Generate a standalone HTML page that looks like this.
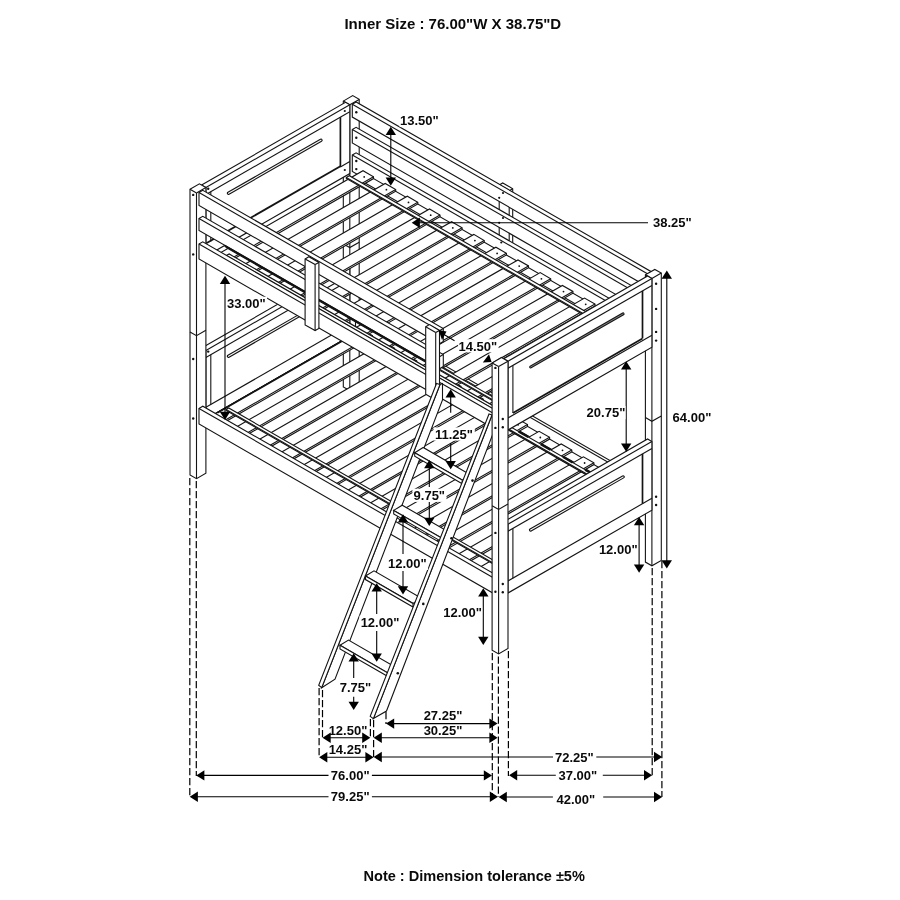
<!DOCTYPE html>
<html><head><meta charset="utf-8"><title>Bunk bed dimensions</title>
<style>
html,body{margin:0;padding:0;background:#fff;}
body{width:900px;height:900px;overflow:hidden;font-family:"Liberation Sans",sans-serif;}
svg{display:block;}
svg text{font-family:"Liberation Sans",sans-serif;font-weight:bold;fill:#0a0a0a;}
svg{filter:grayscale(1);}
</style></head><body>
<svg width="900" height="900" viewBox="0 0 900 900" stroke-linejoin="miter">
<rect width="900" height="900" fill="#fff"/>
<g id="titles"><text x="344.4" y="29.4" font-size="15">Inner Size : 76.00&quot;W X 38.75&quot;D</text>
<text x="363.5" y="880.9" font-size="14.55">Note : Dimension tolerance &#177;5%</text></g>
<g id="bed">
<!-- B post -->
<polygon points="343.3,101.1 352.7,95.6 359.2,99.4 359.2,385.2 349.8,390.6 343.3,386.9" fill="#fff" stroke="#141414" stroke-width="1.1"/>
<line x1="349.8" y1="104.8" x2="343.3" y2="101.1" stroke="#141414" stroke-width="1.1"/>
<line x1="349.8" y1="104.8" x2="359.2" y2="99.4" stroke="#141414" stroke-width="1.1"/>
<line x1="349.8" y1="104.8" x2="349.8" y2="390.6" stroke="#141414" stroke-width="1.1"/>
<polyline points="343.3,243.9 349.8,247.6 359.2,242.2" fill="none" stroke="#141414" stroke-width="1.1"/>
<!-- back guard post -->
<polygon points="499.2,184.9 502.7,182.9 512.7,188.7 512.7,255.2 509.2,257.2 499.2,251.4" fill="#fff" stroke="#141414" stroke-width="1.1"/>
<line x1="509.2" y1="190.7" x2="499.2" y2="184.9" stroke="#141414" stroke-width="1.1"/>
<line x1="509.2" y1="190.7" x2="512.7" y2="188.7" stroke="#141414" stroke-width="1.1"/>
<line x1="509.2" y1="190.7" x2="509.2" y2="257.2" stroke="#141414" stroke-width="1.1"/>
<!-- back rails -->
<polygon points="352.3,104.2 356.1,102 651.7,271.9 651.7,284.8 647.9,287 352.3,117.1" fill="#fff" stroke="#141414" stroke-width="1.1"/>
<line x1="647.9" y1="274.1" x2="352.3" y2="104.2" stroke="#141414" stroke-width="1.1"/>
<line x1="647.9" y1="274.1" x2="651.7" y2="271.9" stroke="#141414" stroke-width="1.1"/>
<line x1="647.9" y1="274.1" x2="647.9" y2="287" stroke="#141414" stroke-width="1.1"/>
<polygon points="352.3,129.5 356.1,127.3 651.7,297.2 651.7,310.7 647.9,312.9 352.3,143" fill="#fff" stroke="#141414" stroke-width="1.1"/>
<line x1="647.9" y1="299.4" x2="352.3" y2="129.5" stroke="#141414" stroke-width="1.1"/>
<line x1="647.9" y1="299.4" x2="651.7" y2="297.2" stroke="#141414" stroke-width="1.1"/>
<line x1="647.9" y1="299.4" x2="647.9" y2="312.9" stroke="#141414" stroke-width="1.1"/>
<polygon points="352.3,155 356.1,152.8 651.7,322.7 651.7,339.1 647.9,341.3 352.3,171.4" fill="#fff" stroke="#141414" stroke-width="1.1"/>
<line x1="647.9" y1="324.9" x2="352.3" y2="155" stroke="#141414" stroke-width="1.1"/>
<line x1="647.9" y1="324.9" x2="651.7" y2="322.7" stroke="#141414" stroke-width="1.1"/>
<line x1="647.9" y1="324.9" x2="647.9" y2="341.3" stroke="#141414" stroke-width="1.1"/>
<polygon points="355.5,317 357.9,315.6 653.5,485.6 653.5,501.1 651.1,502.5 355.5,332.5" fill="#fff" stroke="#141414" stroke-width="1.1"/>
<line x1="651.1" y1="487" x2="355.5" y2="317" stroke="#141414" stroke-width="1.1"/>
<line x1="651.1" y1="487" x2="653.5" y2="485.6" stroke="#141414" stroke-width="1.1"/>
<line x1="651.1" y1="487" x2="651.1" y2="502.5" stroke="#141414" stroke-width="1.1"/>
<circle cx="356.3" cy="112.2" r="1.2" fill="#111"/>
<circle cx="356.3" cy="137.7" r="1.2" fill="#111"/>
<circle cx="356.3" cy="161" r="1.2" fill="#111"/>
<circle cx="356.3" cy="169.1" r="1.2" fill="#111"/>
<circle cx="503" cy="193" r="1.1" fill="#111"/>
<circle cx="499.2" cy="197.8" r="1.1" fill="#111"/>
<circle cx="503" cy="218" r="1.1" fill="#111"/>
<circle cx="499.2" cy="222.8" r="1.1" fill="#111"/>
<circle cx="501.3" cy="242.5" r="1.1" fill="#111"/>
<!-- headboards -->
<polygon points="201.6,185.1 345.5,102.3 349.8,104.8 349.8,173.6 205.9,256.3 201.6,253.9" fill="#fff" stroke="#141414" stroke-width="1.1"/>
<line x1="205.9" y1="187.5" x2="201.6" y2="185.1" stroke="#141414" stroke-width="1.1"/>
<line x1="205.9" y1="187.5" x2="349.8" y2="104.8" stroke="#141414" stroke-width="1.1"/>
<line x1="205.9" y1="187.5" x2="205.9" y2="256.3" stroke="#141414" stroke-width="1.1"/>
<line x1="205.9" y1="194.5" x2="349.8" y2="111.8" stroke="#141414" stroke-width="1.1"/>
<line x1="205.9" y1="243.5" x2="340.4" y2="166.2" stroke="#141414" stroke-width="1.8"/>
<line x1="340.4" y1="167" x2="349.8" y2="161.6" stroke="#141414" stroke-width="1.1"/>
<line x1="210.8" y1="191.7" x2="210.8" y2="241.5" stroke="#141414" stroke-width="1.1"/>
<line x1="340.4" y1="117.2" x2="340.4" y2="167" stroke="#141414" stroke-width="1.7"/>
<line x1="228.5" y1="193.3" x2="321" y2="140.2" stroke="#151515" stroke-width="3.3" stroke-linecap="round"/>
<line x1="228.5" y1="193.3" x2="321" y2="140.2" stroke="#f8f8f8" stroke-width="1.1" stroke-linecap="round"/>
<polygon points="201.6,348.1 345.5,265.3 349.8,267.8 349.8,336.6 205.9,419.3 201.6,416.9" fill="#fff" stroke="#141414" stroke-width="1.1"/>
<line x1="205.9" y1="350.5" x2="201.6" y2="348.1" stroke="#141414" stroke-width="1.1"/>
<line x1="205.9" y1="350.5" x2="349.8" y2="267.8" stroke="#141414" stroke-width="1.1"/>
<line x1="205.9" y1="350.5" x2="205.9" y2="419.3" stroke="#141414" stroke-width="1.1"/>
<line x1="205.9" y1="419.3" x2="349.8" y2="336.6" stroke="#141414" stroke-width="1.7"/>
<line x1="205.9" y1="357.5" x2="349.8" y2="274.8" stroke="#141414" stroke-width="1.1"/>
<line x1="205.9" y1="407.3" x2="349.8" y2="324.6" stroke="#141414" stroke-width="1.1"/>
<line x1="210.8" y1="354.7" x2="210.8" y2="404.5" stroke="#141414" stroke-width="1.1"/>
<line x1="340.4" y1="280.2" x2="340.4" y2="330" stroke="#141414" stroke-width="1.7"/>
<line x1="228.5" y1="356.3" x2="321" y2="303.1" stroke="#151515" stroke-width="3.3" stroke-linecap="round"/>
<line x1="228.5" y1="356.3" x2="321" y2="303.1" stroke="#f8f8f8" stroke-width="1.1" stroke-linecap="round"/>
<circle cx="208.2" cy="188.8" r="1.2" fill="#111"/>
<circle cx="208.2" cy="351.6" r="1.2" fill="#111"/>
<circle cx="344.8" cy="111" r="1.1" fill="#111"/>
<circle cx="344.8" cy="170" r="1.1" fill="#111"/>
<!-- R post -->
<polygon points="645.4,274.8 654.8,269.4 661.3,273.1 661.3,560.4 651.9,565.8 645.4,562.1" fill="#fff" stroke="#141414" stroke-width="1.1"/>
<line x1="651.9" y1="278.5" x2="645.4" y2="274.8" stroke="#141414" stroke-width="1.1"/>
<line x1="651.9" y1="278.5" x2="661.3" y2="273.1" stroke="#141414" stroke-width="1.1"/>
<line x1="651.9" y1="278.5" x2="651.9" y2="565.8" stroke="#141414" stroke-width="1.1"/>
<polyline points="645.4,417.6 651.9,421.3 661.3,415.9" fill="none" stroke="#141414" stroke-width="1.1"/>
<circle cx="656.1" cy="283.7" r="1.2" fill="#111"/>
<circle cx="656.1" cy="308.9" r="1.2" fill="#111"/>
<circle cx="656.1" cy="331.9" r="1.2" fill="#111"/>
<circle cx="656.1" cy="340.6" r="1.2" fill="#111"/>
<circle cx="656.1" cy="496.7" r="1.2" fill="#111"/>
<circle cx="656.1" cy="505" r="1.2" fill="#111"/>
<!-- lower deck -->
<polygon points="352.7,335.1 360.7,330.5 651.1,497.5 651.1,502.5 643.1,507.1 352.7,340.1" fill="#fff" stroke="#141414" stroke-width="1.1"/>
<line x1="643.1" y1="502.1" x2="352.7" y2="335.1" stroke="#141414" stroke-width="1.1"/>
<line x1="643.1" y1="502.1" x2="651.1" y2="497.5" stroke="#141414" stroke-width="1.1"/>
<line x1="643.1" y1="502.1" x2="643.1" y2="507.1" stroke="#141414" stroke-width="1.1"/>
<polygon points="208,418.3 214.2,414.7 504.6,581.7 504.6,586.7 498.4,590.3 208,423.3" fill="#fff" stroke="#141414" stroke-width="1.1"/>
<line x1="498.4" y1="585.3" x2="208" y2="418.3" stroke="#141414" stroke-width="1.1"/>
<line x1="498.4" y1="585.3" x2="504.6" y2="581.7" stroke="#141414" stroke-width="1.1"/>
<line x1="498.4" y1="585.3" x2="498.4" y2="590.3" stroke="#141414" stroke-width="1.1"/>
<polygon points="210.1,416.7 361.9,329.4 372.4,335.5 372.4,337.3 220.6,424.5 210.1,418.5" fill="#fff" stroke="#141414" stroke-width="1.1"/>
<line x1="220.6" y1="422.7" x2="210.1" y2="416.7" stroke="#141414" stroke-width="1.1"/>
<line x1="220.6" y1="422.7" x2="372.4" y2="335.5" stroke="#141414" stroke-width="1.1"/>
<line x1="220.6" y1="422.7" x2="220.6" y2="424.5" stroke="#141414" stroke-width="1.1"/>
<polygon points="232.2,429.4 384.1,342.2 394.6,348.2 394.6,350 242.8,437.3 232.2,431.2" fill="#fff" stroke="#141414" stroke-width="1.1"/>
<line x1="242.8" y1="435.5" x2="232.2" y2="429.4" stroke="#141414" stroke-width="1.1"/>
<line x1="242.8" y1="435.5" x2="394.6" y2="348.2" stroke="#141414" stroke-width="1.1"/>
<line x1="242.8" y1="435.5" x2="242.8" y2="437.3" stroke="#141414" stroke-width="1.1"/>
<polygon points="254.4,442.2 406.2,354.9 416.7,360.9 416.7,362.7 264.9,450 254.4,444" fill="#fff" stroke="#141414" stroke-width="1.1"/>
<line x1="264.9" y1="448.2" x2="254.4" y2="442.2" stroke="#141414" stroke-width="1.1"/>
<line x1="264.9" y1="448.2" x2="416.7" y2="360.9" stroke="#141414" stroke-width="1.1"/>
<line x1="264.9" y1="448.2" x2="264.9" y2="450" stroke="#141414" stroke-width="1.1"/>
<polygon points="276.5,454.9 428.3,367.6 438.8,373.7 438.8,375.5 287,462.8 276.5,456.7" fill="#fff" stroke="#141414" stroke-width="1.1"/>
<line x1="287" y1="461" x2="276.5" y2="454.9" stroke="#141414" stroke-width="1.1"/>
<line x1="287" y1="461" x2="438.8" y2="373.7" stroke="#141414" stroke-width="1.1"/>
<line x1="287" y1="461" x2="287" y2="462.8" stroke="#141414" stroke-width="1.1"/>
<polygon points="298.7,467.7 450.5,380.4 461,386.4 461,388.2 309.2,475.5 298.7,469.5" fill="#fff" stroke="#141414" stroke-width="1.1"/>
<line x1="309.2" y1="473.7" x2="298.7" y2="467.7" stroke="#141414" stroke-width="1.1"/>
<line x1="309.2" y1="473.7" x2="461" y2="386.4" stroke="#141414" stroke-width="1.1"/>
<line x1="309.2" y1="473.7" x2="309.2" y2="475.5" stroke="#141414" stroke-width="1.1"/>
<polygon points="320.9,480.4 472.7,393.1 483.2,399.1 483.2,400.9 331.4,488.2 320.9,482.2" fill="#fff" stroke="#141414" stroke-width="1.1"/>
<line x1="331.4" y1="486.4" x2="320.9" y2="480.4" stroke="#141414" stroke-width="1.1"/>
<line x1="331.4" y1="486.4" x2="483.2" y2="399.1" stroke="#141414" stroke-width="1.1"/>
<line x1="331.4" y1="486.4" x2="331.4" y2="488.2" stroke="#141414" stroke-width="1.1"/>
<polygon points="343,493.1 494.8,405.8 505.3,411.9 505.3,413.7 353.5,501 343,494.9" fill="#fff" stroke="#141414" stroke-width="1.1"/>
<line x1="353.5" y1="499.2" x2="343" y2="493.1" stroke="#141414" stroke-width="1.1"/>
<line x1="353.5" y1="499.2" x2="505.3" y2="411.9" stroke="#141414" stroke-width="1.1"/>
<line x1="353.5" y1="499.2" x2="353.5" y2="501" stroke="#141414" stroke-width="1.1"/>
<polygon points="365.1,505.9 517,418.6 527.5,424.6 527.5,426.4 375.6,513.7 365.1,507.7" fill="#fff" stroke="#141414" stroke-width="1.1"/>
<line x1="375.6" y1="511.9" x2="365.1" y2="505.9" stroke="#141414" stroke-width="1.1"/>
<line x1="375.6" y1="511.9" x2="527.5" y2="424.6" stroke="#141414" stroke-width="1.1"/>
<line x1="375.6" y1="511.9" x2="375.6" y2="513.7" stroke="#141414" stroke-width="1.1"/>
<polygon points="387.3,518.6 539.1,431.3 549.6,437.3 549.6,439.1 397.8,526.4 387.3,520.4" fill="#fff" stroke="#141414" stroke-width="1.1"/>
<line x1="397.8" y1="524.6" x2="387.3" y2="518.6" stroke="#141414" stroke-width="1.1"/>
<line x1="397.8" y1="524.6" x2="549.6" y2="437.3" stroke="#141414" stroke-width="1.1"/>
<line x1="397.8" y1="524.6" x2="397.8" y2="526.4" stroke="#141414" stroke-width="1.1"/>
<polygon points="409.4,531.3 561.2,444 571.8,450.1 571.8,451.9 419.9,539.2 409.4,533.1" fill="#fff" stroke="#141414" stroke-width="1.1"/>
<line x1="419.9" y1="537.4" x2="409.4" y2="531.3" stroke="#141414" stroke-width="1.1"/>
<line x1="419.9" y1="537.4" x2="571.8" y2="450.1" stroke="#141414" stroke-width="1.1"/>
<line x1="419.9" y1="537.4" x2="419.9" y2="539.2" stroke="#141414" stroke-width="1.1"/>
<polygon points="431.6,544.1 583.4,456.8 593.9,462.8 593.9,464.6 442.1,551.9 431.6,545.9" fill="#fff" stroke="#141414" stroke-width="1.1"/>
<line x1="442.1" y1="550.1" x2="431.6" y2="544.1" stroke="#141414" stroke-width="1.1"/>
<line x1="442.1" y1="550.1" x2="593.9" y2="462.8" stroke="#141414" stroke-width="1.1"/>
<line x1="442.1" y1="550.1" x2="442.1" y2="551.9" stroke="#141414" stroke-width="1.1"/>
<polygon points="453.8,556.8 605.5,469.5 616,475.6 616,477.4 464.2,564.6 453.8,558.6" fill="#fff" stroke="#141414" stroke-width="1.1"/>
<line x1="464.2" y1="562.8" x2="453.8" y2="556.8" stroke="#141414" stroke-width="1.1"/>
<line x1="464.2" y1="562.8" x2="616" y2="475.6" stroke="#141414" stroke-width="1.1"/>
<line x1="464.2" y1="562.8" x2="464.2" y2="564.6" stroke="#141414" stroke-width="1.1"/>
<polygon points="475.9,569.5 627.7,482.3 638.2,488.3 638.2,490.1 486.4,577.4 475.9,571.3" fill="#fff" stroke="#141414" stroke-width="1.1"/>
<line x1="486.4" y1="575.6" x2="475.9" y2="569.5" stroke="#141414" stroke-width="1.1"/>
<line x1="486.4" y1="575.6" x2="638.2" y2="488.3" stroke="#141414" stroke-width="1.1"/>
<line x1="486.4" y1="575.6" x2="486.4" y2="577.4" stroke="#141414" stroke-width="1.1"/>
<polygon points="226.1,409.5 228.7,408 503.9,566.2 503.9,567.2 501.3,568.7 226.1,410.5" fill="#fff" stroke="#141414" stroke-width="1.1"/>
<line x1="501.3" y1="567.7" x2="226.1" y2="409.5" stroke="#141414" stroke-width="1.1"/>
<line x1="501.3" y1="567.7" x2="503.9" y2="566.2" stroke="#141414" stroke-width="1.1"/>
<line x1="501.3" y1="567.7" x2="501.3" y2="568.7" stroke="#141414" stroke-width="1.1"/>
<polygon points="350.3,338.1 353.3,336.4 628.5,494.6 628.5,495.6 625.5,497.3 350.3,339.1" fill="#fff" stroke="#141414" stroke-width="1.1"/>
<line x1="625.5" y1="496.3" x2="350.3" y2="338.1" stroke="#141414" stroke-width="1.1"/>
<line x1="625.5" y1="496.3" x2="628.5" y2="494.6" stroke="#141414" stroke-width="1.1"/>
<line x1="625.5" y1="496.3" x2="625.5" y2="497.3" stroke="#141414" stroke-width="1.1"/>
<circle cx="363.1" cy="335.6" r="0.9" fill="#111"/>
<circle cx="385.2" cy="348.4" r="0.9" fill="#111"/>
<circle cx="407.4" cy="361.1" r="0.9" fill="#111"/>
<circle cx="429.5" cy="373.8" r="0.9" fill="#111"/>
<circle cx="451.7" cy="386.6" r="0.9" fill="#111"/>
<circle cx="473.9" cy="399.3" r="0.9" fill="#111"/>
<circle cx="496" cy="412" r="0.9" fill="#111"/>
<circle cx="518.1" cy="424.8" r="0.9" fill="#111"/>
<circle cx="540.3" cy="437.5" r="0.9" fill="#111"/>
<circle cx="562.5" cy="450.3" r="0.9" fill="#111"/>
<circle cx="584.6" cy="463" r="0.9" fill="#111"/>
<circle cx="606.8" cy="475.7" r="0.9" fill="#111"/>
<circle cx="628.9" cy="488.5" r="0.9" fill="#111"/>
<line x1="363.6" y1="342.3" x2="373.2" y2="347.9" stroke="#111" stroke-width="2.2"/>
<line x1="385.7" y1="355" x2="395.4" y2="360.6" stroke="#111" stroke-width="2.2"/>
<line x1="407.9" y1="367.8" x2="417.5" y2="373.3" stroke="#111" stroke-width="2.2"/>
<line x1="430" y1="380.5" x2="439.7" y2="386.1" stroke="#111" stroke-width="2.2"/>
<line x1="452.2" y1="393.3" x2="461.8" y2="398.8" stroke="#111" stroke-width="2.2"/>
<line x1="474.3" y1="406" x2="484" y2="411.5" stroke="#111" stroke-width="2.2"/>
<line x1="496.5" y1="418.7" x2="506.1" y2="424.3" stroke="#111" stroke-width="2.2"/>
<line x1="518.6" y1="431.5" x2="528.3" y2="437" stroke="#111" stroke-width="2.2"/>
<line x1="540.8" y1="444.2" x2="550.4" y2="449.7" stroke="#111" stroke-width="2.2"/>
<line x1="562.9" y1="456.9" x2="572.6" y2="462.5" stroke="#111" stroke-width="2.2"/>
<line x1="585.1" y1="469.7" x2="594.7" y2="475.2" stroke="#111" stroke-width="2.2"/>
<line x1="607.2" y1="482.4" x2="616.9" y2="488" stroke="#111" stroke-width="2.2"/>
<line x1="217.5" y1="412.7" x2="344.8" y2="339.5" stroke="#141414" stroke-width="1.7"/>
<!-- lower footboard -->
<polygon points="503.7,521.8 647.6,439 651.9,441.5 651.9,510.3 508,593 503.7,590.6" fill="#fff" stroke="#141414" stroke-width="1.1"/>
<line x1="508" y1="524.2" x2="503.7" y2="521.8" stroke="#141414" stroke-width="1.1"/>
<line x1="508" y1="524.2" x2="651.9" y2="441.5" stroke="#141414" stroke-width="1.1"/>
<line x1="508" y1="524.2" x2="508" y2="593" stroke="#141414" stroke-width="1.1"/>
<line x1="508" y1="531.2" x2="651.9" y2="448.5" stroke="#141414" stroke-width="1.1"/>
<line x1="508" y1="581" x2="651.9" y2="498.3" stroke="#141414" stroke-width="1.1"/>
<line x1="512.9" y1="528.4" x2="512.9" y2="578.2" stroke="#141414" stroke-width="1.1"/>
<line x1="642.5" y1="453.9" x2="642.5" y2="503.7" stroke="#141414" stroke-width="1.7"/>
<line x1="530.6" y1="530" x2="623.1" y2="476.9" stroke="#151515" stroke-width="3.3" stroke-linecap="round"/>
<line x1="530.6" y1="530" x2="623.1" y2="476.9" stroke="#f8f8f8" stroke-width="1.1" stroke-linecap="round"/>
<!-- upper deck -->
<polygon points="353.8,176.4 361.8,171.8 647.9,336.3 647.9,341.3 639.9,345.9 353.8,181.4" fill="#fff" stroke="#141414" stroke-width="1.1"/>
<line x1="639.9" y1="340.9" x2="353.8" y2="176.4" stroke="#141414" stroke-width="1.1"/>
<line x1="639.9" y1="340.9" x2="647.9" y2="336.3" stroke="#141414" stroke-width="1.1"/>
<line x1="639.9" y1="340.9" x2="639.9" y2="345.9" stroke="#141414" stroke-width="1.1"/>
<polygon points="212.3,257.8 218.5,254.2 504.6,418.7 504.6,423.7 498.4,427.3 212.3,262.8" fill="#fff" stroke="#141414" stroke-width="1.1"/>
<line x1="498.4" y1="422.3" x2="212.3" y2="257.8" stroke="#141414" stroke-width="1.1"/>
<line x1="498.4" y1="422.3" x2="504.6" y2="418.7" stroke="#141414" stroke-width="1.1"/>
<line x1="498.4" y1="422.3" x2="498.4" y2="427.3" stroke="#141414" stroke-width="1.1"/>
<polygon points="214.4,256.2 363,170.7 373.5,176.8 373.5,178.6 224.9,264 214.4,258" fill="#fff" stroke="#141414" stroke-width="1.1"/>
<line x1="224.9" y1="262.2" x2="214.4" y2="256.2" stroke="#141414" stroke-width="1.1"/>
<line x1="224.9" y1="262.2" x2="373.5" y2="176.8" stroke="#141414" stroke-width="1.1"/>
<line x1="224.9" y1="262.2" x2="224.9" y2="264" stroke="#141414" stroke-width="1.1"/>
<polygon points="236.6,268.9 385.2,183.5 395.7,189.5 395.7,191.3 247.1,276.8 236.6,270.7" fill="#fff" stroke="#141414" stroke-width="1.1"/>
<line x1="247.1" y1="275" x2="236.6" y2="268.9" stroke="#141414" stroke-width="1.1"/>
<line x1="247.1" y1="275" x2="395.7" y2="189.5" stroke="#141414" stroke-width="1.1"/>
<line x1="247.1" y1="275" x2="247.1" y2="276.8" stroke="#141414" stroke-width="1.1"/>
<polygon points="258.7,281.7 407.3,196.2 417.8,202.2 417.8,204 269.2,289.5 258.7,283.5" fill="#fff" stroke="#141414" stroke-width="1.1"/>
<line x1="269.2" y1="287.7" x2="258.7" y2="281.7" stroke="#141414" stroke-width="1.1"/>
<line x1="269.2" y1="287.7" x2="417.8" y2="202.2" stroke="#141414" stroke-width="1.1"/>
<line x1="269.2" y1="287.7" x2="269.2" y2="289.5" stroke="#141414" stroke-width="1.1"/>
<polygon points="280.9,294.4 429.5,208.9 440,215 440,216.8 291.4,302.2 280.9,296.2" fill="#fff" stroke="#141414" stroke-width="1.1"/>
<line x1="291.4" y1="300.4" x2="280.9" y2="294.4" stroke="#141414" stroke-width="1.1"/>
<line x1="291.4" y1="300.4" x2="440" y2="215" stroke="#141414" stroke-width="1.1"/>
<line x1="291.4" y1="300.4" x2="291.4" y2="302.2" stroke="#141414" stroke-width="1.1"/>
<polygon points="303,307.1 451.6,221.7 462.1,227.7 462.1,229.5 313.5,315 303,308.9" fill="#fff" stroke="#141414" stroke-width="1.1"/>
<line x1="313.5" y1="313.2" x2="303" y2="307.1" stroke="#141414" stroke-width="1.1"/>
<line x1="313.5" y1="313.2" x2="462.1" y2="227.7" stroke="#141414" stroke-width="1.1"/>
<line x1="313.5" y1="313.2" x2="313.5" y2="315" stroke="#141414" stroke-width="1.1"/>
<polygon points="325.1,319.9 473.8,234.4 484.2,240.5 484.2,242.3 335.6,327.7 325.1,321.7" fill="#fff" stroke="#141414" stroke-width="1.1"/>
<line x1="335.6" y1="325.9" x2="325.1" y2="319.9" stroke="#141414" stroke-width="1.1"/>
<line x1="335.6" y1="325.9" x2="484.2" y2="240.5" stroke="#141414" stroke-width="1.1"/>
<line x1="335.6" y1="325.9" x2="335.6" y2="327.7" stroke="#141414" stroke-width="1.1"/>
<polygon points="347.3,332.6 495.9,247.2 506.4,253.2 506.4,255 357.8,340.4 347.3,334.4" fill="#fff" stroke="#141414" stroke-width="1.1"/>
<line x1="357.8" y1="338.6" x2="347.3" y2="332.6" stroke="#141414" stroke-width="1.1"/>
<line x1="357.8" y1="338.6" x2="506.4" y2="253.2" stroke="#141414" stroke-width="1.1"/>
<line x1="357.8" y1="338.6" x2="357.8" y2="340.4" stroke="#141414" stroke-width="1.1"/>
<polygon points="369.4,345.3 518,259.9 528.5,265.9 528.5,267.7 379.9,353.2 369.4,347.1" fill="#fff" stroke="#141414" stroke-width="1.1"/>
<line x1="379.9" y1="351.4" x2="369.4" y2="345.3" stroke="#141414" stroke-width="1.1"/>
<line x1="379.9" y1="351.4" x2="528.5" y2="265.9" stroke="#141414" stroke-width="1.1"/>
<line x1="379.9" y1="351.4" x2="379.9" y2="353.2" stroke="#141414" stroke-width="1.1"/>
<polygon points="391.6,358.1 540.2,272.6 550.7,278.7 550.7,280.5 402.1,365.9 391.6,359.9" fill="#fff" stroke="#141414" stroke-width="1.1"/>
<line x1="402.1" y1="364.1" x2="391.6" y2="358.1" stroke="#141414" stroke-width="1.1"/>
<line x1="402.1" y1="364.1" x2="550.7" y2="278.7" stroke="#141414" stroke-width="1.1"/>
<line x1="402.1" y1="364.1" x2="402.1" y2="365.9" stroke="#141414" stroke-width="1.1"/>
<polygon points="413.8,370.8 562.4,285.4 572.9,291.4 572.9,293.2 424.2,378.6 413.8,372.6" fill="#fff" stroke="#141414" stroke-width="1.1"/>
<line x1="424.2" y1="376.8" x2="413.8" y2="370.8" stroke="#141414" stroke-width="1.1"/>
<line x1="424.2" y1="376.8" x2="572.9" y2="291.4" stroke="#141414" stroke-width="1.1"/>
<line x1="424.2" y1="376.8" x2="424.2" y2="378.6" stroke="#141414" stroke-width="1.1"/>
<polygon points="435.9,383.5 584.5,298.1 595,304.1 595,305.9 446.4,391.4 435.9,385.3" fill="#fff" stroke="#141414" stroke-width="1.1"/>
<line x1="446.4" y1="389.6" x2="435.9" y2="383.5" stroke="#141414" stroke-width="1.1"/>
<line x1="446.4" y1="389.6" x2="595" y2="304.1" stroke="#141414" stroke-width="1.1"/>
<line x1="446.4" y1="389.6" x2="446.4" y2="391.4" stroke="#141414" stroke-width="1.1"/>
<polygon points="458,396.3 606.6,310.8 617.1,316.9 617.1,318.7 468.5,404.1 458,398.1" fill="#fff" stroke="#141414" stroke-width="1.1"/>
<line x1="468.5" y1="402.3" x2="458" y2="396.3" stroke="#141414" stroke-width="1.1"/>
<line x1="468.5" y1="402.3" x2="617.1" y2="316.9" stroke="#141414" stroke-width="1.1"/>
<line x1="468.5" y1="402.3" x2="468.5" y2="404.1" stroke="#141414" stroke-width="1.1"/>
<polygon points="480.2,409 628.8,323.6 639.3,329.6 639.3,331.4 490.7,416.9 480.2,410.8" fill="#fff" stroke="#141414" stroke-width="1.1"/>
<line x1="490.7" y1="415.1" x2="480.2" y2="409" stroke="#141414" stroke-width="1.1"/>
<line x1="490.7" y1="415.1" x2="639.3" y2="329.6" stroke="#141414" stroke-width="1.1"/>
<line x1="490.7" y1="415.1" x2="490.7" y2="416.9" stroke="#141414" stroke-width="1.1"/>
<polygon points="226.1,246.5 228.7,245 508.2,405.7 508.2,406.7 505.6,408.2 226.1,247.5" fill="#fff" stroke="#141414" stroke-width="1.1"/>
<line x1="505.6" y1="407.2" x2="226.1" y2="246.5" stroke="#141414" stroke-width="1.1"/>
<line x1="505.6" y1="407.2" x2="508.2" y2="405.7" stroke="#141414" stroke-width="1.1"/>
<line x1="505.6" y1="407.2" x2="505.6" y2="408.2" stroke="#141414" stroke-width="1.1"/>
<polygon points="346.3,177.4 349.3,175.7 628.8,336.4 628.8,337.4 625.8,339.1 346.3,178.4" fill="#fff" stroke="#141414" stroke-width="1.1"/>
<line x1="625.8" y1="338.1" x2="346.3" y2="177.4" stroke="#141414" stroke-width="1.1"/>
<line x1="625.8" y1="338.1" x2="628.8" y2="336.4" stroke="#141414" stroke-width="1.1"/>
<line x1="625.8" y1="338.1" x2="625.8" y2="339.1" stroke="#141414" stroke-width="1.1"/>
<circle cx="364.2" cy="176.9" r="0.9" fill="#111"/>
<circle cx="386.4" cy="189.7" r="0.9" fill="#111"/>
<circle cx="408.5" cy="202.4" r="0.9" fill="#111"/>
<circle cx="430.7" cy="215.2" r="0.9" fill="#111"/>
<circle cx="452.8" cy="227.9" r="0.9" fill="#111"/>
<circle cx="474.9" cy="240.6" r="0.9" fill="#111"/>
<circle cx="497.1" cy="253.4" r="0.9" fill="#111"/>
<circle cx="519.2" cy="266.1" r="0.9" fill="#111"/>
<circle cx="541.4" cy="278.8" r="0.9" fill="#111"/>
<circle cx="563.5" cy="291.6" r="0.9" fill="#111"/>
<circle cx="585.7" cy="304.3" r="0.9" fill="#111"/>
<circle cx="607.8" cy="317" r="0.9" fill="#111"/>
<circle cx="630" cy="329.8" r="0.9" fill="#111"/>
<polygon points="226.3,255.6 229.2,254 501.3,410.4 501.3,419.6 498.4,421.3 226.3,264.8" fill="#fff" stroke="#141414" stroke-width="1.1"/>
<line x1="498.4" y1="412.1" x2="226.3" y2="255.6" stroke="#141414" stroke-width="1.1"/>
<line x1="498.4" y1="412.1" x2="501.3" y2="410.4" stroke="#141414" stroke-width="1.1"/>
<line x1="498.4" y1="412.1" x2="498.4" y2="421.3" stroke="#141414" stroke-width="1.1"/>
<!-- upper footboard -->
<polygon points="503.7,358.8 647.6,276 651.9,278.5 651.9,347.3 508,430 503.7,427.6" fill="#fff" stroke="#141414" stroke-width="1.1"/>
<line x1="508" y1="361.2" x2="503.7" y2="358.8" stroke="#141414" stroke-width="1.1"/>
<line x1="508" y1="361.2" x2="651.9" y2="278.5" stroke="#141414" stroke-width="1.1"/>
<line x1="508" y1="361.2" x2="508" y2="430" stroke="#141414" stroke-width="1.1"/>
<line x1="508" y1="368.2" x2="651.9" y2="285.5" stroke="#141414" stroke-width="1.1"/>
<line x1="508" y1="418" x2="651.9" y2="335.3" stroke="#141414" stroke-width="1.1"/>
<line x1="512.9" y1="365.4" x2="512.9" y2="413" stroke="#141414" stroke-width="1.1"/>
<line x1="642.5" y1="290.9" x2="642.5" y2="338.4" stroke="#141414" stroke-width="1.7"/>
<line x1="512.9" y1="412.9" x2="642.5" y2="338.4" stroke="#141414" stroke-width="1.7"/>
<line x1="530.6" y1="367" x2="623.1" y2="313.9" stroke="#181818" stroke-width="3" stroke-linecap="round"/>
<line x1="530.6" y1="367" x2="623.1" y2="313.9" stroke="#aaa" stroke-width="0.7" stroke-linecap="round"/>
<!-- L post -->
<polygon points="190,189.2 199.4,183.8 205.9,187.5 205.9,473.3 196.5,478.7 190,475" fill="#fff" stroke="#141414" stroke-width="1.1"/>
<line x1="196.5" y1="192.9" x2="190" y2="189.2" stroke="#141414" stroke-width="1.1"/>
<line x1="196.5" y1="192.9" x2="205.9" y2="187.5" stroke="#141414" stroke-width="1.1"/>
<line x1="196.5" y1="192.9" x2="196.5" y2="478.7" stroke="#141414" stroke-width="1.1"/>
<polyline points="190,332 196.5,335.7 205.9,330.3" fill="none" stroke="#141414" stroke-width="1.1"/>
<circle cx="193.2" cy="194.9" r="1.2" fill="#111"/>
<circle cx="193.2" cy="254.4" r="1.2" fill="#111"/>
<circle cx="193.2" cy="359" r="1.2" fill="#111"/>
<circle cx="193.2" cy="418.5" r="1.2" fill="#111"/>
<!-- front rails -->
<polygon points="199,408.4 202.8,406.2 498.4,576.2 498.4,591.8 494.6,594 199,424" fill="#fff" stroke="#141414" stroke-width="1.1"/>
<line x1="494.6" y1="578.4" x2="199" y2="408.4" stroke="#141414" stroke-width="1.1"/>
<line x1="494.6" y1="578.4" x2="498.4" y2="576.2" stroke="#141414" stroke-width="1.1"/>
<line x1="494.6" y1="578.4" x2="494.6" y2="594" stroke="#141414" stroke-width="1.1"/>
<polygon points="199,244 202.8,241.8 498.4,411.8 498.4,426.8 494.6,429 199,259" fill="#fff" stroke="#141414" stroke-width="1.1"/>
<line x1="494.6" y1="414" x2="199" y2="244" stroke="#141414" stroke-width="1.1"/>
<line x1="494.6" y1="414" x2="498.4" y2="411.8" stroke="#141414" stroke-width="1.1"/>
<line x1="494.6" y1="414" x2="494.6" y2="429" stroke="#141414" stroke-width="1.1"/>
<polygon points="199,218.5 202.8,216.3 443.3,354.6 443.3,366.6 439.5,368.8 199,230.5" fill="#fff" stroke="#141414" stroke-width="1.1"/>
<line x1="439.5" y1="356.8" x2="199" y2="218.5" stroke="#141414" stroke-width="1.1"/>
<line x1="439.5" y1="356.8" x2="443.3" y2="354.6" stroke="#141414" stroke-width="1.1"/>
<line x1="439.5" y1="356.8" x2="439.5" y2="368.8" stroke="#141414" stroke-width="1.1"/>
<line x1="224.5" y1="245.5" x2="429.5" y2="363.3" stroke="#111" stroke-width="1.7"/>
<polygon points="199,192.5 202.8,190.3 443.3,328.6 443.3,341.6 439.5,343.8 199,205.5" fill="#fff" stroke="#141414" stroke-width="1.1"/>
<line x1="439.5" y1="330.8" x2="199" y2="192.5" stroke="#141414" stroke-width="1.1"/>
<line x1="439.5" y1="330.8" x2="443.3" y2="328.6" stroke="#141414" stroke-width="1.1"/>
<line x1="439.5" y1="330.8" x2="439.5" y2="343.8" stroke="#141414" stroke-width="1.1"/>
<!-- guard posts -->
<polygon points="305.1,258.9 308.9,256.7 318.9,262.4 318.9,328.4 315.1,330.6 305.1,324.9" fill="#fff" stroke="#141414" stroke-width="1.1"/>
<line x1="315.1" y1="264.6" x2="305.1" y2="258.9" stroke="#141414" stroke-width="1.1"/>
<line x1="315.1" y1="264.6" x2="318.9" y2="262.4" stroke="#141414" stroke-width="1.1"/>
<line x1="315.1" y1="264.6" x2="315.1" y2="330.6" stroke="#141414" stroke-width="1.1"/>
<polygon points="425.7,326.8 429.5,324.6 439.5,330.4 439.5,397.8 435.7,400 425.7,394.2" fill="#fff" stroke="#141414" stroke-width="1.1"/>
<line x1="435.7" y1="332.6" x2="425.7" y2="326.8" stroke="#141414" stroke-width="1.1"/>
<line x1="435.7" y1="332.6" x2="439.5" y2="330.4" stroke="#141414" stroke-width="1.1"/>
<line x1="435.7" y1="332.6" x2="435.7" y2="400" stroke="#141414" stroke-width="1.1"/>
</g>
<g id="ladder">
<polygon points="321.7,687.7 335,679.2 442.5,400 442.5,383.5 440,384.5" fill="#fff" stroke="#141414" stroke-width="1.1"/>
<polygon points="318.7,685.3 321.7,687.7 440,384.5 436.5,383.5" fill="#fff" stroke="#141414" stroke-width="1.1"/>
<polygon points="414.7,452.7 423.2,447.5 470.7,474.9 462.2,480.1" fill="#fff" stroke="#141414" stroke-width="1.1"/>
<polygon points="414.7,452.7 462.2,480.1 462.2,483.7 414.7,456.3" fill="#fff" stroke="#141414" stroke-width="1.1"/>
<polygon points="393.7,510.4 402.2,505.2 449.7,532.6 441.2,537.8" fill="#fff" stroke="#141414" stroke-width="1.1"/>
<polygon points="393.7,510.4 441.2,537.8 441.2,541.4 393.7,514" fill="#fff" stroke="#141414" stroke-width="1.1"/>
<polygon points="365.5,576 374,570.8 421.5,598.2 413,603.4" fill="#fff" stroke="#141414" stroke-width="1.1"/>
<polygon points="365.5,576 413,603.4 413,607 365.5,579.6" fill="#fff" stroke="#141414" stroke-width="1.1"/>
<polygon points="340,645.3 348.5,640.1 396,667.5 387.5,672.7" fill="#fff" stroke="#141414" stroke-width="1.1"/>
<polygon points="340,645.3 387.5,672.7 387.5,676.3 340,648.9" fill="#fff" stroke="#141414" stroke-width="1.1"/>
<polygon points="373.4,718.6 386.5,711 494,431 494,414.5 492,415" fill="#fff" stroke="#141414" stroke-width="1.1"/>
<polygon points="370.2,716.4 373.4,718.6 492,415 489,414" fill="#fff" stroke="#141414" stroke-width="1.1"/>
<circle cx="472.5" cy="480.6" r="1.3" fill="#111"/>
<circle cx="451.5" cy="538.3" r="1.3" fill="#111"/>
<circle cx="423.3" cy="603.9" r="1.3" fill="#111"/>
<circle cx="397.8" cy="673.2" r="1.3" fill="#111"/>
</g>
<g id="fpost">
<!-- F post -->
<polygon points="492.1,362.9 501.5,357.5 508,361.2 508,648.5 498.6,653.9 492.1,650.2" fill="#fff" stroke="#141414" stroke-width="1.1"/>
<line x1="498.6" y1="366.6" x2="492.1" y2="362.9" stroke="#141414" stroke-width="1.1"/>
<line x1="498.6" y1="366.6" x2="508" y2="361.2" stroke="#141414" stroke-width="1.1"/>
<line x1="498.6" y1="366.6" x2="498.6" y2="653.9" stroke="#141414" stroke-width="1.1"/>
<polyline points="492.1,505.7 498.6,509.4 508,504" fill="none" stroke="#141414" stroke-width="1.1"/>
<circle cx="495.4" cy="367.9" r="1.2" fill="#111"/>
<circle cx="495.4" cy="427.9" r="1.2" fill="#111"/>
<circle cx="495.4" cy="532.9" r="1.2" fill="#111"/>
<circle cx="495.4" cy="591.8" r="1.2" fill="#111"/>
<circle cx="502.8" cy="419" r="1.2" fill="#111"/>
<circle cx="502.8" cy="427.3" r="1.2" fill="#111"/>
<circle cx="502.8" cy="584" r="1.2" fill="#111"/>
<circle cx="502.8" cy="592.3" r="1.2" fill="#111"/>
</g>
<g id="dims">
<line x1="189.8" y1="478" x2="189.8" y2="797" stroke="#000" stroke-width="1.2" stroke-dasharray="7.3 2.7"/>
<line x1="196.3" y1="481" x2="196.3" y2="776" stroke="#000" stroke-width="1.2" stroke-dasharray="7.3 2.7"/>
<line x1="492.3" y1="653" x2="492.3" y2="797" stroke="#000" stroke-width="1.2" stroke-dasharray="7.3 2.7"/>
<line x1="498.4" y1="656.5" x2="498.4" y2="797" stroke="#000" stroke-width="1.2" stroke-dasharray="7.3 2.7"/>
<line x1="508.4" y1="651" x2="508.4" y2="776" stroke="#000" stroke-width="1.2" stroke-dasharray="7.3 2.7"/>
<line x1="652.2" y1="568" x2="652.2" y2="776" stroke="#000" stroke-width="1.2" stroke-dasharray="7.3 2.7"/>
<line x1="661.9" y1="561" x2="661.9" y2="797" stroke="#000" stroke-width="1.2" stroke-dasharray="7.3 2.7"/>
<line x1="319.1" y1="688" x2="319.1" y2="757" stroke="#000" stroke-width="1.2" stroke-dasharray="7.3 2.7"/>
<line x1="322.5" y1="690" x2="322.5" y2="738" stroke="#000" stroke-width="1.2" stroke-dasharray="7.3 2.7"/>
<line x1="370.4" y1="719" x2="370.4" y2="738" stroke="#000" stroke-width="1.2" stroke-dasharray="7.3 2.7"/>
<line x1="373.6" y1="720" x2="373.6" y2="757" stroke="#000" stroke-width="1.2" stroke-dasharray="7.3 2.7"/>
<line x1="386" y1="712" x2="386" y2="724" stroke="#000" stroke-width="1.2" stroke-dasharray="7.3 2.7"/>
<polygon points="386,723.6 394.2,718.4 394.2,728.8" fill="#000"/>
<polygon points="497.6,723.6 489.4,728.8 489.4,718.4" fill="#000"/>
<line x1="390" y1="723.6" x2="493.6" y2="723.6" stroke="#000" stroke-width="1.1"/>
<text x="443" y="720.4" font-size="13" text-anchor="middle">27.25&quot;</text>
<polygon points="373.6,737.8 381.8,732.6 381.8,743" fill="#000"/>
<polygon points="497.6,737.8 489.4,743 489.4,732.6" fill="#000"/>
<line x1="377.6" y1="737.8" x2="493.6" y2="737.8" stroke="#000" stroke-width="1.1"/>
<text x="443" y="734.6" font-size="13" text-anchor="middle">30.25&quot;</text>
<polygon points="322.5,737.8 330.7,732.6 330.7,743" fill="#000"/>
<polygon points="370.4,737.8 362.2,743 362.2,732.6" fill="#000"/>
<line x1="326.5" y1="737.8" x2="366.4" y2="737.8" stroke="#000" stroke-width="1.1"/>
<text x="348" y="734.6" font-size="13" text-anchor="middle">12.50&quot;</text>
<polygon points="319.1,757.3 327.3,752.1 327.3,762.5" fill="#000"/>
<polygon points="373.6,757.3 365.4,762.5 365.4,752.1" fill="#000"/>
<line x1="323.1" y1="757.3" x2="369.6" y2="757.3" stroke="#000" stroke-width="1.1"/>
<text x="348" y="754.1" font-size="13" text-anchor="middle">14.25&quot;</text>
<polygon points="373.6,757 381.8,751.8 381.8,762.2" fill="#000"/>
<polygon points="662.2,757 654,762.2 654,751.8" fill="#000"/>
<line x1="377.6" y1="757" x2="553" y2="757" stroke="#000" stroke-width="1.1"/>
<line x1="596.3" y1="757" x2="658.2" y2="757" stroke="#000" stroke-width="1.1"/>
<text x="574.3" y="761.7" font-size="13" text-anchor="middle">72.25&quot;</text>
<polygon points="196.2,775.4 204.4,770.2 204.4,780.6" fill="#000"/>
<polygon points="492,775.4 483.8,780.6 483.8,770.2" fill="#000"/>
<line x1="200.2" y1="775.4" x2="328.5" y2="775.4" stroke="#000" stroke-width="1.1"/>
<line x1="371.9" y1="775.4" x2="488" y2="775.4" stroke="#000" stroke-width="1.1"/>
<text x="350.2" y="780.1" font-size="13" text-anchor="middle">76.00&quot;</text>
<polygon points="189.7,796.7 197.9,791.5 197.9,801.9" fill="#000"/>
<polygon points="498,796.7 489.8,801.9 489.8,791.5" fill="#000"/>
<line x1="193.7" y1="796.7" x2="328.5" y2="796.7" stroke="#000" stroke-width="1.1"/>
<line x1="371.9" y1="796.7" x2="494" y2="796.7" stroke="#000" stroke-width="1.1"/>
<text x="350.2" y="801.4" font-size="13" text-anchor="middle">79.25&quot;</text>
<polygon points="509,775.3 517.2,770.1 517.2,780.5" fill="#000"/>
<polygon points="652.2,775.3 644,780.5 644,770.1" fill="#000"/>
<line x1="513" y1="775.3" x2="555.8" y2="775.3" stroke="#000" stroke-width="1.1"/>
<line x1="602.8" y1="775.3" x2="648.2" y2="775.3" stroke="#000" stroke-width="1.1"/>
<text x="577.8" y="780" font-size="13" text-anchor="middle">37.00&quot;</text>
<polygon points="498.6,797 506.8,791.8 506.8,802.2" fill="#000"/>
<polygon points="662.2,797 654,802.2 654,791.8" fill="#000"/>
<line x1="502.6" y1="797" x2="552.9" y2="797" stroke="#000" stroke-width="1.1"/>
<line x1="603.2" y1="797" x2="658.2" y2="797" stroke="#000" stroke-width="1.1"/>
<text x="575.9" y="803.6" font-size="13" text-anchor="middle">42.00&quot;</text>
<polygon points="390.8,126.7 396,134.9 385.6,134.9" fill="#000"/>
<polygon points="390.8,185.8 385.6,177.6 396,177.6" fill="#000"/>
<line x1="390.8" y1="131" x2="390.8" y2="181" stroke="#000" stroke-width="1.1"/>
<rect x="399.6" y="113.9" width="40.5" height="13.2" fill="#fff"/>
<text x="400" y="125.2" font-size="13" text-anchor="start">13.50&quot;</text>
<polygon points="411.7,222.8 419.9,217.6 419.9,228" fill="#000"/>
<line x1="416" y1="222.8" x2="648" y2="222.8" stroke="#000" stroke-width="1.1"/>
<rect x="652.6" y="215.5" width="40.5" height="13.2" fill="#fff"/>
<text x="653" y="226.8" font-size="13" text-anchor="start">38.25&quot;</text>
<polygon points="225,275.8 230.2,284 219.8,284" fill="#000"/>
<polygon points="225,420 219.8,411.8 230.2,411.8" fill="#000"/>
<line x1="225" y1="281" x2="225" y2="416" stroke="#000" stroke-width="1.1"/>
<rect x="226.6" y="296.7" width="40.5" height="13.2" fill="#fff"/>
<text x="227" y="308" font-size="13" text-anchor="start">33.00&quot;</text>
<polygon points="438.5,330 446.5,331.5 442,340" fill="#000"/>
<polygon points="489,354.3 482.8,362.6 491.6,362" fill="#000"/>
<line x1="444" y1="334.5" x2="454.5" y2="340.8" stroke="#000" stroke-width="1.1"/>
<rect x="458.1" y="339.2" width="40.5" height="13.2" fill="#fff"/>
<text x="458.5" y="350.5" font-size="13" text-anchor="start">14.50&quot;</text>
<polygon points="666.8,270.5 672,278.7 661.6,278.7" fill="#000"/>
<polygon points="666.8,568.4 661.6,560.2 672,560.2" fill="#000"/>
<line x1="666.8" y1="275" x2="666.8" y2="564" stroke="#000" stroke-width="1.1"/>
<rect x="672.2" y="411.1" width="40.5" height="13.2" fill="#fff"/>
<text x="672.6" y="422.4" font-size="13" text-anchor="start">64.00&quot;</text>
<polygon points="626.2,361.3 631.4,369.5 621,369.5" fill="#000"/>
<polygon points="626.2,451.7 621,443.5 631.4,443.5" fill="#000"/>
<line x1="626.2" y1="366" x2="626.2" y2="447" stroke="#000" stroke-width="1.1"/>
<rect x="585.4" y="406" width="40.1" height="13.2" fill="#fff"/>
<text x="625.3" y="417.3" font-size="13" text-anchor="end">20.75&quot;</text>
<polygon points="639.1,517.1 644.3,525.3 633.9,525.3" fill="#000"/>
<polygon points="639.1,572.8 633.9,564.6 644.3,564.6" fill="#000"/>
<line x1="639.1" y1="522" x2="639.1" y2="568" stroke="#000" stroke-width="1.1"/>
<rect x="597.7" y="543.1" width="40.1" height="13.2" fill="#fff"/>
<text x="637.6" y="554.4" font-size="13" text-anchor="end">12.00&quot;</text>
<polygon points="483.3,588.3 488.5,596.5 478.1,596.5" fill="#000"/>
<polygon points="483.3,645 478.1,636.8 488.5,636.8" fill="#000"/>
<line x1="483.3" y1="593" x2="483.3" y2="641" stroke="#000" stroke-width="1.1"/>
<rect x="442" y="606" width="40.1" height="13.2" fill="#fff"/>
<text x="481.9" y="617.3" font-size="13" text-anchor="end">12.00&quot;</text>
<polygon points="450.7,389.3 455.9,397.5 445.5,397.5" fill="#000"/>
<line x1="450.7" y1="394" x2="450.7" y2="412.7" stroke="#000" stroke-width="1.1"/>
<line x1="450.7" y1="443.3" x2="450.7" y2="465" stroke="#000" stroke-width="1.1"/>
<polygon points="450.7,469.3 445.5,461.1 455.9,461.1" fill="#000"/>
<rect x="433.5" y="427.4" width="41.3" height="13.2" fill="#fff"/>
<text x="454" y="438.7" font-size="13" text-anchor="middle">11.25&quot;</text>
<polygon points="429.3,460 434.5,468.2 424.1,468.2" fill="#000"/>
<line x1="429.3" y1="465" x2="429.3" y2="487" stroke="#000" stroke-width="1.1"/>
<line x1="429.3" y1="502" x2="429.3" y2="522" stroke="#000" stroke-width="1.1"/>
<polygon points="429.3,526 424.1,517.8 434.5,517.8" fill="#000"/>
<rect x="412.4" y="488.7" width="34.1" height="13.2" fill="#fff"/>
<text x="429.3" y="500" font-size="13" text-anchor="middle">9.75&quot;</text>
<polygon points="403,514.3 408.2,522.5 397.8,522.5" fill="#000"/>
<line x1="403" y1="519" x2="403" y2="554" stroke="#000" stroke-width="1.1"/>
<line x1="403" y1="571" x2="403" y2="590" stroke="#000" stroke-width="1.1"/>
<polygon points="403,594.4 397.8,586.2 408.2,586.2" fill="#000"/>
<rect x="386.8" y="556.7" width="41.3" height="13.2" fill="#fff"/>
<text x="407.3" y="568" font-size="13" text-anchor="middle">12.00&quot;</text>
<polygon points="376.7,583.3 381.9,591.5 371.5,591.5" fill="#000"/>
<line x1="376.7" y1="588" x2="376.7" y2="614" stroke="#000" stroke-width="1.1"/>
<line x1="376.7" y1="631" x2="376.7" y2="657" stroke="#000" stroke-width="1.1"/>
<polygon points="376.7,661.7 371.5,653.5 381.9,653.5" fill="#000"/>
<rect x="359.5" y="615.5" width="41.3" height="13.2" fill="#fff"/>
<text x="380" y="626.8" font-size="13" text-anchor="middle">12.00&quot;</text>
<polygon points="353.7,653.3 358.9,661.5 348.5,661.5" fill="#000"/>
<line x1="353.7" y1="658" x2="353.7" y2="678" stroke="#000" stroke-width="1.1"/>
<line x1="353.7" y1="696.7" x2="353.7" y2="706" stroke="#000" stroke-width="1.1"/>
<polygon points="353.7,710 348.5,701.8 358.9,701.8" fill="#000"/>
<rect x="338.6" y="680.3" width="34.1" height="13.2" fill="#fff"/>
<text x="355.5" y="691.6" font-size="13" text-anchor="middle">7.75&quot;</text>
</g>
</svg>
</body></html>
